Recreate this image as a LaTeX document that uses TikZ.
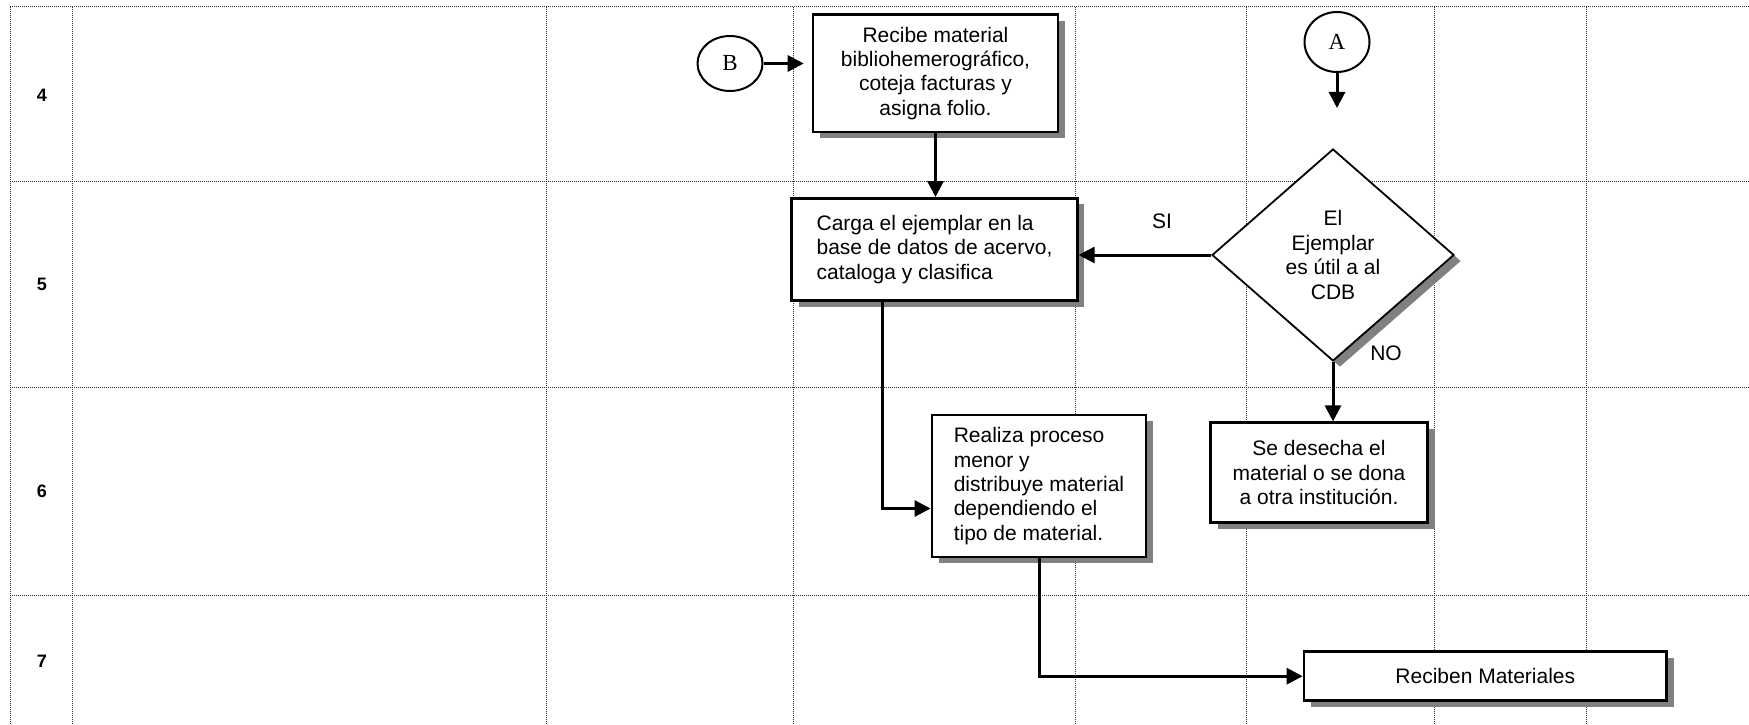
\documentclass[tikz,border=0pt]{standalone}
\usepackage{fontspec}
\setmainfont{Liberation Sans}
\newfontfamily\letterfont{Liberation Serif}
\usetikzlibrary{arrows.meta,shapes.geometric,shadows}

\begin{document}
\begin{tikzpicture}[x=1pt, y=-1pt, inner sep=0pt,
    font=\fontsize{21}{24.4}\selectfont,
    grid/.style={line width=1pt, dash pattern=on 1pt off 1pt, black!80},
    stepbox/.style={draw, fill=white, line width=2.6pt,
      drop shadow={shadow xshift=7pt, shadow yshift=-6pt, opacity=1, fill=black!50}},
    decision/.style={stepbox, diamond, line width=1.8pt, aspect=1.14},
    connector/.style={ellipse, draw, fill=white, line width=2pt,
      font=\letterfont\fontsize{23}{23}\selectfont},
    rownum/.style={font=\fontsize{18}{18}\selectfont\bfseries},
    flow/.style={line width=3pt, -{Triangle[length=16pt, width=16pt]}}]
  \useasboundingbox (0,0) rectangle (1749,725);
  \foreach \y in {7,181,387,595} \draw[grid] (10,\y) -- (1749,\y);
  \foreach \x in {10,72,546,793,1075,1246,1434,1586} \draw[grid] (\x,7) -- (\x,725);
  \path node (r4) at (42,95.5)  [rownum] {4}
        node (r5) at (42,284.5) [rownum] {5}
        node (r6) at (42,491.5) [rownum] {6}
        node (r7) at (42,661.5) [rownum] {7};
  \path node (B)  at (730,63.5) [connector, minimum width=65pt, minimum height=55pt] {B}
        node (A)  at (1337,42)  [connector, minimum width=65pt, minimum height=60pt] {A}
        node (rec) at (935.5,73.3) [stepbox, minimum width=245pt, minimum height=117pt, align=center]
          {Recibe material\\bibliohemerográfico,\\coteja facturas y\\asigna folio.}
        node (carga) at (934.5,249.5) [stepbox, minimum width=285.6pt, minimum height=102.4pt, align=left]
          {Carga el ejemplar en la\\base de datos de acervo,\\cataloga y clasifica}
        node (dec) at (1333,255) [decision, minimum width=242pt, minimum height=212pt, align=center]
          {El\\Ejemplar\\es útil a al\\CDB}
        node (realiza) at (1039,486) [stepbox, minimum width=214.3pt, minimum height=142.3pt, align=left]
          {Realiza proceso\\menor y\\distribuye material\\dependiendo el\\tipo de material.}
        node (desecha) at (1319,472.7) [stepbox, minimum width=217pt, minimum height=100pt, align=center]
          {Se desecha el\\material o se dona\\a otra institución.}
        node (reciben) at (1485.3,676.2) [stepbox, minimum width=362.7pt, minimum height=49pt]
          {Reciben Materiales}
        node (si) at (1162,221.7) {SI}
        node (no) at (1386,353.6) {NO};
  \coordinate (Aend) at (1337,108);
  \draw[flow] (B.east) -- ([xshift=-8pt]B.east -| rec.west);
  \draw[flow] (A.south) -- (Aend);
  \draw[flow] (rec.south) -- (rec.south |- carga.north);
  \draw[flow] (dec.west) -- (dec.west -| carga.east);
  \draw[flow] (dec.south) -- (dec.south |- desecha.north);
  \draw[flow] ([xshift=-52.5pt]carga.south) |- ([yshift=-22.5pt]realiza.west);
  \draw[flow] (realiza.south) |- (reciben.west);
\end{tikzpicture}
\end{document}
